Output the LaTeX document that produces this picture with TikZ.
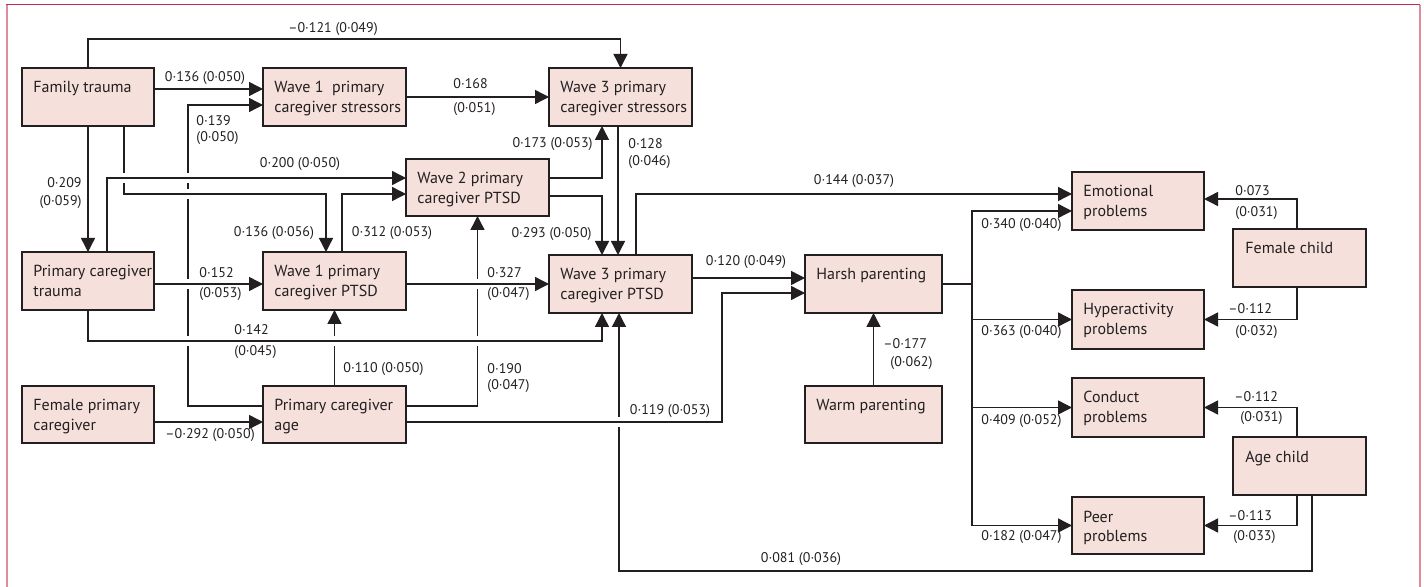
\documentclass[tikz,border=0pt]{standalone}
\usepackage{fontspec}
\setmainfont{PT Sans}
\usetikzlibrary{arrows.meta}
\definecolor{boxfill}{HTML}{F5E0DB}
\definecolor{ink}{HTML}{231F20}
\definecolor{frametop}{HTML}{C42A4E}
\definecolor{frameside}{HTML}{E0899F}
\newcommand\gapat[2]{\fill[white] (#1-3,#2-5) rectangle (#1+3,#2+5);}
\begin{document}
\begin{tikzpicture}[x=0.5pt,y=-0.5pt,
  box/.style={draw=ink, fill=boxfill, line width=0.65pt, minimum width=#1,
    minimum height=29pt, anchor=north west, inner sep=0pt, outer sep=0pt},
  box/.default=66pt,
  bt/.style={anchor=base west, inner sep=0pt, font=\fontsize{8}{9.8}\selectfont, text=ink},
  lab/.style={inner sep=0pt, font=\fontsize{7}{8.4}\selectfont, text=ink},
  arr/.style={draw=ink, line width=0.7pt, -{Triangle[length=7pt,width=7pt]}},
  ln/.style={draw=ink, line width=0.7pt}]
\useasboundingbox (0,0) rectangle (1424,587);
% frame
\draw[frametop, line width=0.5pt] (6,5) -- (1420,5);
\draw[frameside, line width=1pt] (6.5,5) -- (6.5,587);
\draw[frameside, line width=1pt] (1420,5) -- (1420,587);

% boxes
\node[box] (ft) at (22,68) {};
\node[box=71.5pt] (w1s) at (263,68) {};
\node[box=71.5pt] (w3s) at (549,68) {};
\node[box=71.5pt, minimum height=28.5pt] (w2p) at (406,159) {};
\node[box] (pct) at (22,252) {};
\node[box=71.5pt] (w1p) at (263,252) {};
\node[box=71.5pt] (w3p) at (549,255) {};
\node[box=68.5pt] (hp) at (805,255) {};
\node[box, minimum height=28.5pt] (fpc) at (22,386) {};
\node[box=71.5pt, minimum height=28.5pt] (pca) at (263,386) {};
\node[box=68.5pt, minimum height=28.5pt] (wp) at (805,386) {};
\node[box] (ep) at (1072,172) {};
\node[box=66.5pt] (fc) at (1233,229) {};
\node[box, minimum height=29.5pt] (hy) at (1072,290) {};
\node[box, minimum height=29.5pt] (cp) at (1072,378) {};
\node[box=66.5pt] (ac) at (1233,437) {};
\node[box, minimum height=28.5pt] (pp) at (1072,497) {};

% box texts
\node[bt] (ft-t) at ([shift={(5.5pt,-12.5pt)}]ft.north west) {\parbox[t]{62pt}{\raggedright Family trauma}};
\node[bt] (w1s-t) at ([shift={(5.5pt,-12.5pt)}]w1s.north west) {\parbox[t]{68pt}{\raggedright Wave 1~ primary\\caregiver stressors}};
\node[bt] (w3s-t) at ([shift={(5.5pt,-12.5pt)}]w3s.north west) {\parbox[t]{68pt}{\raggedright Wave 3 primary\\caregiver stressors}};
\node[bt] (w2p-t) at ([shift={(5.5pt,-12.5pt)}]w2p.north west) {\parbox[t]{68pt}{\raggedright Wave 2 primary\\caregiver PTSD}};
\node[bt] (pct-t) at ([shift={(5.5pt,-12.5pt)}]pct.north west) {\parbox[t]{62pt}{\raggedright Primary caregiver\\trauma}};
\node[bt] (w1p-t) at ([shift={(5.5pt,-12.5pt)}]w1p.north west) {\parbox[t]{68pt}{\raggedright Wave 1 primary\\caregiver PTSD}};
\node[bt] (w3p-t) at ([shift={(5.5pt,-12.5pt)}]w3p.north west) {\parbox[t]{68pt}{\raggedright Wave 3 primary\\caregiver PTSD}};
\node[bt] (hp-t) at ([shift={(5.5pt,-12.5pt)}]hp.north west) {\parbox[t]{64pt}{\raggedright Harsh parenting}};
\node[bt] (fpc-t) at ([shift={(5.5pt,-12.5pt)}]fpc.north west) {\parbox[t]{62pt}{\raggedright Female primary\\caregiver}};
\node[bt] (pca-t) at ([shift={(5.5pt,-12.5pt)}]pca.north west) {\parbox[t]{68pt}{\raggedright Primary caregiver\\age}};
\node[bt] (wp-t) at ([shift={(5.5pt,-12.5pt)}]wp.north west) {\parbox[t]{64pt}{\raggedright Warm parenting}};
\node[bt] (ep-t) at ([shift={(5.5pt,-12.5pt)}]ep.north west) {\parbox[t]{62pt}{\raggedright Emotional\\problems}};
\node[bt] (fc-t) at ([shift={(6pt,-12.5pt)}]fc.north west) {\parbox[t]{62pt}{\raggedright Female child}};
\node[bt] (hy-t) at ([shift={(5.5pt,-12.5pt)}]hy.north west) {\parbox[t]{62pt}{\raggedright Hyperactivity\\problems}};
\node[bt] (cp-t) at ([shift={(5.5pt,-12.5pt)}]cp.north west) {\parbox[t]{62pt}{\raggedright Conduct\\problems}};
\node[bt] (ac-t) at ([shift={(6pt,-12.5pt)}]ac.north west) {\parbox[t]{62pt}{\raggedright Age child}};
\node[bt] (pp-t) at ([shift={(5.5pt,-12.5pt)}]pp.north west) {\parbox[t]{62pt}{\raggedright Peer\\problems}};

% connectors that get gaps first
\draw[arr] ([yshift=4.25pt]pca.west) -- ++(-75,0) |- ([yshift=-4pt]w1s.west);
\draw[arr] (pca.north) -- (w1p.south);
\draw[arr] ([yshift=4.25pt]pca.east) -| (w2p.south);
\draw[arr] ([xshift=6.25pt]ac.south) -- ++(0,76) -| ([xshift=-0.75pt]w3p.south);
\gapat{188}{194}
\draw[arr] ([xshift=-15pt]ft.south east) -- ++(0,68) -| ([xshift=-4.25pt]w1p.north);
\gapat{124}{178}
\gapat{188}{178}
\gapat{188}{284}
\gapat{188}{341}
\gapat{334.5}{341}
\gapat{477.5}{341}
\gapat{477.5}{284}
\gapat{619.75}{422}
% remaining connectors
\draw[arr] ([xshift=42.5pt]pct.north west) |- ([yshift=4.75pt]w2p.west);
\draw[arr] ([yshift=-1.5pt]pct.east) -- ([yshift=-1.5pt]w1p.west);
\draw[arr] ([yshift=-1.5pt]w1p.east) -- (w3p.west);
\draw[arr] (pct.south) -- ++(0,31) -| ([xshift=-9.25pt]w3p.south);
\draw[arr] ([yshift=-3.75pt]pca.east) -- ++(316,0) |- ([yshift=-4.5pt]hp.west);
\draw[arr] (ft.north) -- ++(0,-29) -| (w3s.north);
\draw[arr] ([yshift=4pt]ft.east) -- ([yshift=4pt]w1s.west);
\draw[arr] (w1s.east) -- (w3s.west);
\draw[arr] (ft.south) -- (pct.north);
\draw[arr] ([xshift=3.75pt]w1p.north) |- ([yshift=-3.25pt]w2p.west);
\draw[arr] ([yshift=4.75pt]w2p.east) -| ([xshift=-9.25pt]w3s.south);
\draw[arr] ([yshift=-4.25pt]w2p.east) -| ([xshift=-9.25pt]w3p.north);
\draw[arr] ([xshift=-1.25pt]w3s.south) -- ([xshift=-1.25pt]w3p.north);
\draw[arr] ([xshift=7.75pt]w3p.north) |- ([yshift=3.5pt]ep.west);
\draw[arr] ([yshift=3pt]w3p.east) -- ([yshift=3pt]hp.west);
\draw[arr] ([yshift=-3.75pt]fpc.east) -- ([yshift=-3.75pt]pca.west);
\draw[arr] (wp.north) -- (hp.south);
\draw[ln] (hp.east) -- ++(30,0) coordinate (hb);
\draw[arr] (hb) |- ([yshift=-5pt]ep.west);
\draw[arr] (hb) |- (hy.west);
\draw[arr] (hb) |- (cp.west);
\draw[arr] (hb) |- (pp.west);
\draw[arr] ([xshift=-1.25pt]fc.north) |- ([yshift=1pt]ep.east);
\draw[arr] ([xshift=-1.25pt]fc.south) |- (hy.east);
\draw[arr] ([xshift=-1.25pt]ac.north) |- (cp.east);
\draw[arr] ([xshift=-1.25pt]ac.south) |- (pp.east);

% labels
\node[lab] (l01) at (333,29) {–0·121 (0·049)};
\node[lab] (l02) at (205,78) {0·136 (0·050)};
\node[lab, anchor=west] (l03a) at (196,121) {0·139};
\node[lab, anchor=west] (l03b) at (196,138) {(0·050)};
\node[lab, anchor=east] (l04a) at (82,183) {0·209};
\node[lab, anchor=east] (l04b) at (82,202) {(0·059)};
\node[lab] (l05) at (300,164) {0·200 (0·050)};
\node[lab, anchor=west] (l06a) at (453,84) {0·168};
\node[lab, anchor=west] (l06b) at (453,109) {(0·051)};
\node[lab, anchor=east] (l07) at (593,144) {0·173 (0·053)};
\node[lab, anchor=west] (l08a) at (628,144) {0·128};
\node[lab, anchor=west] (l08b) at (628,162) {(0·046)};
\node[lab] (l09) at (854,181) {0·144 (0·037)};
\node[lab] (l10) at (274,233) {0·136 (0·056)};
\node[lab] (l11) at (392,233) {0·312 (0·053)};
\node[lab, anchor=east] (l12) at (592,234) {0·293 (0·050)};
\node[lab, anchor=west] (l13a) at (199,273) {0·152};
\node[lab, anchor=west] (l13b) at (199,294) {(0·053)};
\node[lab, anchor=west] (l14a) at (487,273) {0·327};
\node[lab, anchor=west] (l14b) at (487,294) {(0·047)};
\node[lab] (l15) at (746,262) {0·120 (0·049)};
\node[lab, anchor=west] (l16a) at (234,330) {0·142};
\node[lab, anchor=west] (l16b) at (234,352) {(0·045)};
\node[lab, anchor=west] (l17) at (343,369) {0·110 (0·050)};
\node[lab, anchor=west] (l18a) at (487,369) {0·190};
\node[lab, anchor=west] (l18b) at (487,386) {(0·047)};
\node[lab, anchor=west] (l19) at (165,435) {–0·292 (0·050)};
\node[lab] (l20) at (670,411) {0·119 (0·053)};
\node[lab] (l21) at (801,559) {0·081 (0·036)};
\node[lab, anchor=west] (l22a) at (883,344) {–0·177};
\node[lab, anchor=west] (l22b) at (890,363) {(0·062)};
\node[lab, anchor=west] (l23) at (981,225) {0·340 (0·040)};
\node[lab, anchor=west] (l24) at (981,332) {0·363 (0·040)};
\node[lab, anchor=west] (l25) at (981,421) {0·409 (0·052)};
\node[lab, anchor=west] (l26) at (981,537) {0·182 (0·047)};
\node[lab, anchor=west] (l27a) at (1235,191) {0·073};
\node[lab, anchor=west] (l27b) at (1235,213) {(0·031)};
\node[lab, anchor=west] (l28a) at (1228,309) {–0·112};
\node[lab, anchor=west] (l28b) at (1235,332) {(0·032)};
\node[lab, anchor=west] (l29a) at (1234,397) {–0·112};
\node[lab, anchor=west] (l29b) at (1240,418) {(0·031)};
\node[lab, anchor=west] (l30a) at (1228,516) {–0·113};
\node[lab, anchor=west] (l30b) at (1233,537) {(0·033)};
\end{tikzpicture}
\end{document}
